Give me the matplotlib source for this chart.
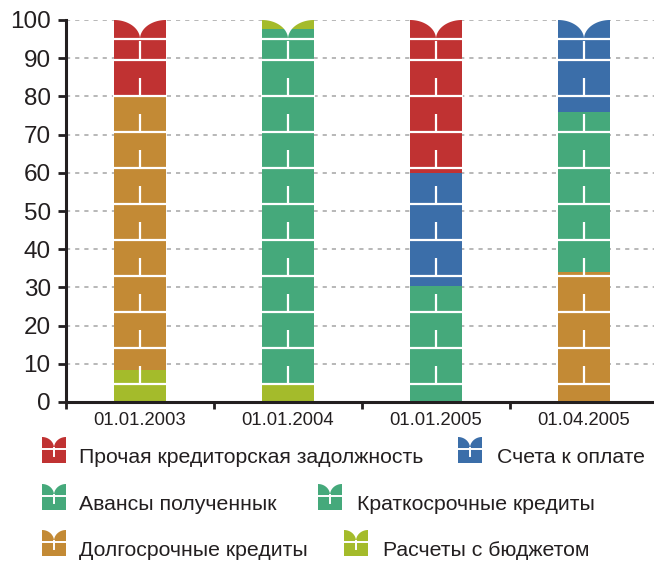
import numpy as np
import matplotlib
matplotlib.use('Agg')
import matplotlib.pyplot as plt
from matplotlib.patches import Polygon, Rectangle

plt.rcParams['font.family'] = ['Liberation Sans', 'DejaVu Sans']

categories = ['01.01.2003', '01.01.2004', '01.01.2005', '01.04.2005']

series_names = ['Прочая кредиторская задолжность', 'Счета к оплате',
                'Авансы полученнык', 'Краткосрочные кредиты',
                'Долгосрочные кредиты', 'Расчеты с бюджетом']
series_colors = ['#C03232', '#3B6EA9', '#45A97B', '#45A97B', '#C38A35', '#A4BB2B']

# values (%), stacked bottom-up
raschety = [8.5, 4.5, 0.0, 0.0]
dolgosrochnye = [71.5, 0.0, 0.0, 34.0]
kratkosrochnye = [0.0, 93.1, 30.4, 0.0]
avansy = [0.0, 0.0, 0.0, 42.0]
scheta = [0.0, 0.0, 29.6, 24.0]
prochaya = [20.0, 0.0, 40.0, 0.0]
raschety_top = [0.0, 2.4, 0.0, 0.0]

yticks = list(range(0, 101, 10))

stack = [
    (raschety, series_colors[5]),
    (dolgosrochnye, series_colors[4]),
    (kratkosrochnye, series_colors[3]),
    (avansy, series_colors[2]),
    (scheta, series_colors[1]),
    (prochaya, series_colors[0]),
    (raschety_top, series_colors[5]),
]

W, H = 654, 561
fig = plt.figure(figsize=(W / 100, H / 100), dpi=100)
ax = fig.add_axes([66 / W, (H - 402) / H, 592 / W, 382 / H])

x = np.arange(len(categories))
bw = 0.35
bottom = np.zeros(len(categories))
for vals, col in stack:
    v = np.array(vals)
    ax.bar(x, v, bw, bottom=bottom, color=col, zorder=2, linewidth=0)
    bottom += v
totals = bottom

# brick pattern + castle cap
P = 9.45
off = 4.6
cap = 5.0
for i, xc in enumerate(x):
    top = totals[i]
    xl, xr = xc - bw / 2, xc + bw / 2
    k = 0
    while off + k * P < top - cap - 1:
        yl = off + k * P
        ax.hlines(yl, xl - 0.01, xr + 0.01, color='white', lw=1.6, zorder=3)
        ax.vlines(xc, yl, min(yl + P / 2, top - cap), color='white', lw=1.6, zorder=3)
        k += 1
    ax.hlines(top - cap, xl - 0.01, xr + 0.01, color='white', lw=1.6, zorder=3)
    t = np.linspace(0, np.pi / 2, 40)
    left = np.column_stack([xl + (bw / 2) * np.sin(t), top - cap + cap * np.cos(t)])
    right = np.column_stack([xr - (bw / 2) * np.sin(t[::-1]), top - cap + cap * np.cos(t[::-1])])
    pts = np.vstack([[xl - 0.002, top + 0.6], left, right, [xr + 0.002, top + 0.6]])
    ax.add_patch(Polygon(pts, closed=True, facecolor='white', edgecolor='none',
                         zorder=4, clip_on=False))

ax.set_xlim(-0.5, len(categories) - 0.5)
ax.set_ylim(0, 100)
ax.set_yticks(yticks)
ax.set_xticks(x)
ax.set_xticklabels(categories)
ax.set_xticks(np.arange(-0.5, len(categories), 1.0), minor=True)
ax.tick_params(axis='x', which='major', length=0, pad=7, labelsize=13.3, colors='#231F20')
ax.tick_params(axis='x', which='minor', length=5, width=2, direction='out', color='#231F20')
ax.tick_params(axis='y', length=6, width=2, pad=5, labelsize=17.5, colors='#231F20')
for s in ['top', 'right']:
    ax.spines[s].set_visible(False)
for s in ['left', 'bottom']:
    ax.spines[s].set_linewidth(2.2)
    ax.spines[s].set_color('#231F20')
ax.grid(axis='y', color='#ABABAB', linestyle=(0, (2.5, 3)), linewidth=1.2, zorder=0)
ax.set_axisbelow(True)

# legend (custom castle icons, flowing rows)
lg = fig.add_axes([0, 0, 1, 1], zorder=5)
lg.set_xlim(0, W)
lg.set_ylim(H, 0)
lg.axis('off')

def icon(x0, ybot, col):
    w, h, ch = 24, 26, 11
    lg.add_patch(Rectangle((x0, ybot - h), w, h, facecolor=col, edgecolor='none'))
    yt = ybot - h
    t = np.linspace(0, np.pi / 2, 30)
    left = np.column_stack([x0 + (w / 2) * np.sin(t), yt + ch - ch * np.cos(t)])
    right = np.column_stack([x0 + w - (w / 2) * np.sin(t[::-1]), yt + ch - ch * np.cos(t[::-1])])
    pts = np.vstack([[x0, yt - 0.5], left, right, [x0 + w, yt - 0.5]])
    lg.add_patch(Polygon(pts, closed=True, facecolor='white', edgecolor='none'))
    lg.plot([x0, x0 + w], [yt + ch + 0.5, yt + ch + 0.5], color='white', lw=1.4)
    lg.plot([x0 + w / 2, x0 + w / 2], [yt + ch, yt + ch + 8], color='white', lw=1.4)

row_base = [463, 510, 556]
icon_x = [42, 458, 42, 318, 42, 344]
for j, (name, col) in enumerate(zip(series_names, series_colors)):
    r = j // 2
    icon(icon_x[j], row_base[r], col)
    lg.text(icon_x[j] + 37 if j % 2 == 0 else icon_x[j] + 39, row_base[r], name,
            fontsize=15.3, color='#231F20', va='baseline', ha='left')

fig.savefig('out.png', dpi=100)
